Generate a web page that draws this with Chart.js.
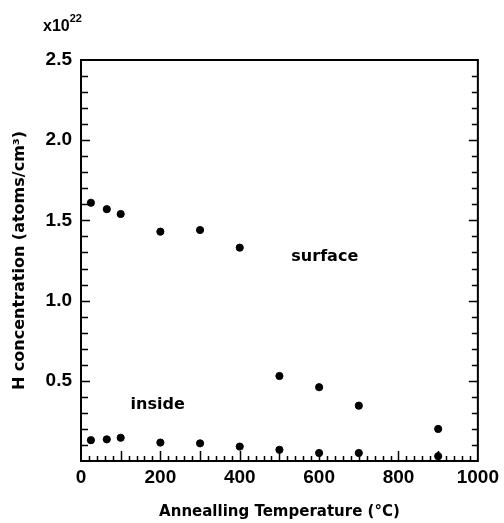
<!DOCTYPE html>
<html>
<head>
<meta charset="utf-8">
<script src="https://cdn.jsdelivr.net/npm/chart.js@4.4.1/dist/chart.umd.min.js"></script>
<style>
  html, body { margin: 0; padding: 0; background: #fff; }
  #wrap { width: 504px; height: 523px; }
</style>
</head>
<body>
<div id="wrap"><canvas id="chart"></canvas></div>
<script>
// annealing temperature (C)
const temps = [25, 65, 100, 200, 300, 400, 500, 600, 700, 900];
// H concentration, units of 1e22 atoms/cm3
const surface = [1.61, 1.57, 1.54, 1.43, 1.44, 1.33, 0.53, 0.46, 0.345, 0.2];
const inside = [0.13, 0.135, 0.145, 0.115, 0.11, 0.09, 0.07, 0.05, 0.05, 0.03];

const xTicks = [0, 200, 400, 600, 800, 1000];
const yTicks = [0.5, 1.0, 1.5, 2.0, 2.5];

const toPoints = (ys) => temps.map((t, i) => ({ x: t, y: ys[i] }));

const tickFont = { family: "Liberation Sans", size: 19, weight: "bold" };

// frame, inward ticks, labels inside the plot and the exponent
const decorations = {
  id: "decorations",
  afterDraw(chart) {
    const ctx = chart.ctx;
    const a = chart.chartArea;
    const xs = chart.scales.x, ys = chart.scales.y;
    ctx.save();
    ctx.strokeStyle = "#000";
    ctx.lineWidth = 2;
    ctx.strokeRect(a.left, a.top, a.right - a.left, a.bottom - a.top);

    ctx.lineWidth = 1.5;
    ctx.beginPath();
    for (let v = 20; v < 1000; v += 20) {
      const px = Math.round(xs.getPixelForValue(v)) + 0.5;
      const len = v % 100 === 0 ? 10 : 5;
      ctx.moveTo(px, a.bottom);
      ctx.lineTo(px, a.bottom - len);
    }
    for (let i = 1; i < 25; i++) {
      const v = i / 10;
      const py = Math.round(ys.getPixelForValue(v)) + 0.5;
      const major = i % 5 === 0;
      ctx.moveTo(a.left, py);
      ctx.lineTo(a.left + (major ? 9 : 7), py);
      ctx.moveTo(a.right, py);
      ctx.lineTo(a.right - (major ? 9 : 6), py);
    }
    ctx.stroke();

    ctx.fillStyle = "#000";
    ctx.font = "bold 16px 'DejaVu Sans'";
    ctx.textBaseline = "middle";
    ctx.textAlign = "left";
    ctx.fillText("surface", xs.getPixelForValue(530), ys.getPixelForValue(1.27));
    ctx.fillText("inside", xs.getPixelForValue(125), ys.getPixelForValue(0.35));

    ctx.font = "bold 16px 'Liberation Sans'";
    ctx.textBaseline = "alphabetic";
    ctx.fillText("x10", 43, 31);
    const w = ctx.measureText("x10").width;
    ctx.font = "bold 11px 'Liberation Sans'";
    ctx.fillText("22", 43 + w, 22);
    ctx.restore();
  }
};

new Chart(document.getElementById("chart"), {
  type: "scatter",
  data: {
    datasets: [
      { label: "surface", data: toPoints(surface), backgroundColor: "#000", borderColor: "#000", pointRadius: 3.6 },
      { label: "inside", data: toPoints(inside), backgroundColor: "#000", borderColor: "#000", pointRadius: 3.6 }
    ]
  },
  options: {
    responsive: true,
    maintainAspectRatio: false,
    animation: false,
    layout: { padding: { top: 60, right: 23, left: 0, bottom: 0 } },
    plugins: {
      legend: { display: false },
      tooltip: { enabled: false }
    },
    scales: {
      x: {
        type: "linear",
        min: 0,
        max: 1000,
        afterBuildTicks: (s) => { s.ticks = xTicks.map(v => ({ value: v })); },
        afterFit: (s) => { s.height = 62; },
        grid: { display: false, drawTicks: false },
        border: { display: false },
        ticks: { color: "#000", font: tickFont, padding: 5, maxRotation: 0, callback: (v) => String(v) },
        title: {
          display: true,
          text: "Annealling Temperature (°C)",
          color: "#000",
          font: { family: "DejaVu Sans", size: 15, weight: "bold" },
          padding: { top: 0, bottom: 2 }
        }
      },
      y: {
        type: "linear",
        min: 0,
        max: 2.5,
        afterBuildTicks: (s) => { s.ticks = yTicks.map(v => ({ value: v })); },
        afterFit: (s) => { s.width = 81; },
        grid: { display: false, drawTicks: false },
        border: { display: false },
        ticks: { color: "#000", font: tickFont, padding: 9, callback: (v) => v.toFixed(1) },
        title: {
          display: true,
          text: "H concentration (atoms/cm³)",
          color: "#000",
          font: { family: "DejaVu Sans", size: 16, weight: "bold" },
          padding: { top: 10, bottom: 0 }
        }
      }
    }
  },
  plugins: [decorations]
});
</script>
</body>
</html>
